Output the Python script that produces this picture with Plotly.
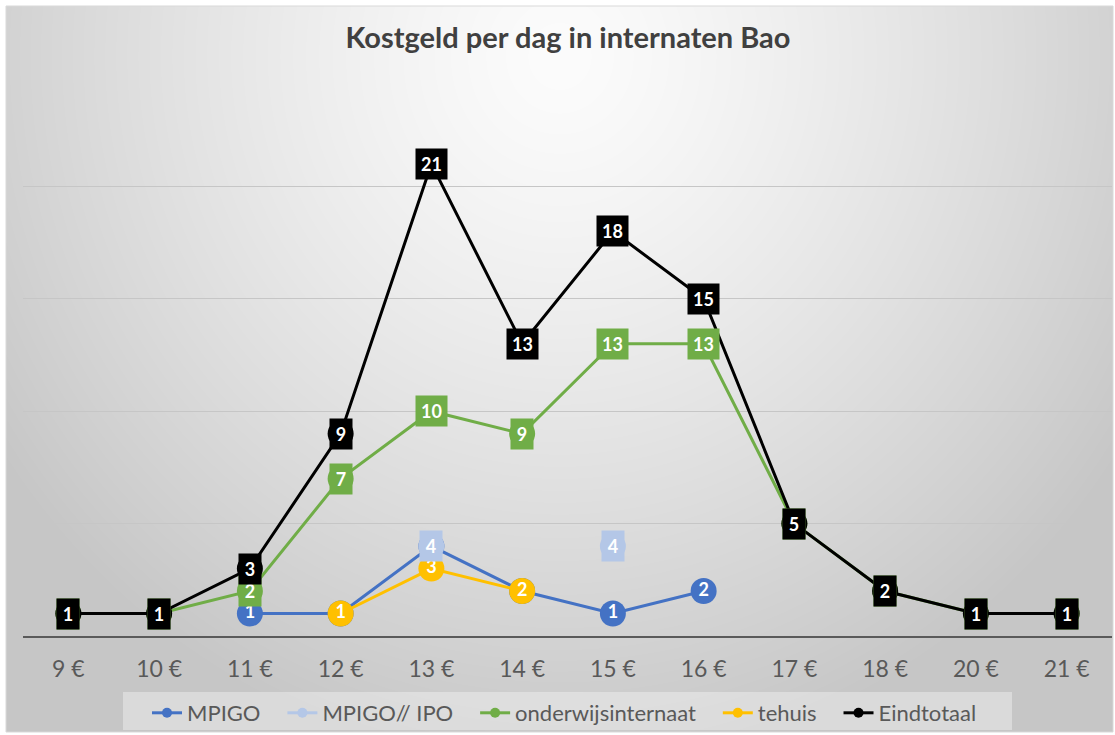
import base64, struct, zlib
import numpy as np
import plotly.graph_objects as go

# ---------------- data ----------------
categories = ["9 €", "10 €", "11 €", "12 €", "13 €", "14 €", "15 €", "16 €", "17 €", "18 €", "20 €", "21 €"]
mpigo = [None, None, 1, 1, 4, 2, 1, 2, None, None, None, None]
mpigo_ipo = [None, None, None, None, 4, None, 4, None, None, None, None, None]
onderwijsinternaat = [1, 1, 2, 7, 10, 9, 13, 13, 5, 2, 1, 1]
tehuis = [None, None, None, 1, 3, 2, None, None, None, None, None, None]
eindtotaal = [1, 1, 3, 9, 21, 13, 18, 15, 5, 2, 1, 1]

series_names = ["MPIGO", "MPIGO// IPO", "onderwijsinternaat", "tehuis", "Eindtotaal"]
series_values = [mpigo, mpigo_ipo, onderwijsinternaat, tehuis, eindtotaal]
series_colors = ["#4472C4", "#B4C7E7", "#70AD47", "#FFC000", "#000000"]
boxed = [False, True, True, False, True]

title_text = "Kostgeld per dag in internaten Bao"

FONT = "Lato"
W, H = 1115, 735
ML, MR, MT, MB = 23, 3, 74, 99
PW, PH = W - ML - MR, H - MT - MB


def px_x(p):
    return (p - ML) / PW


def px_y(p):
    return (H - MB - p) / PH


# ---------------- background gradient image ----------------
def gradient_uri(w, h):
    xs = np.arange(w)[None, :]
    ys = np.arange(h)[:, None]
    cx, cy = w * 0.5, 50.0
    d = np.sqrt(((xs - cx) / 680.0) ** 2 + ((ys - cy) / 720.0) ** 2)
    d = np.clip(d, 0, 1)
    v = 252 - 54 * d ** 1.3
    arr = np.clip(v, 0, 255).astype(np.uint8)
    raw = b"".join(b"\x00" + arr[i].tobytes() for i in range(h))

    def chunk(tag, data):
        c = struct.pack(">I", len(data)) + tag + data
        return c + struct.pack(">I", zlib.crc32(tag + data) & 0xFFFFFFFF)

    png = b"\x89PNG\r\n\x1a\n"
    png += chunk(b"IHDR", struct.pack(">IIBBBBB", w, h, 8, 0, 0, 0, 0))
    png += chunk(b"IDAT", zlib.compress(raw, 9))
    png += chunk(b"IEND", b"")
    return "data:image/png;base64," + base64.b64encode(png).decode()


bx0, by0, bx1, by1 = 6, 6, 1113, 732
lx0, ly0, lx1, ly1 = 123, 692, 1012, 730
PAD = "\u00a0" * 3

fig = go.Figure()

# ---------------- data traces ----------------
for name, vals, col, bx in zip(series_names, series_values, series_colors, boxed):
    fig.add_trace(go.Scatter(
        x=categories, y=vals, name=name, showlegend=False,
        mode="lines+markers" if bx else "lines+markers+text",
        line=dict(color=col, width=3),
        marker=dict(color=col, size=26, symbol="circle"),
        text=[("" if v is None else str(v)) for v in vals],
        textposition="middle center",
        textfont=dict(family=FONT, size=18, color="white", weight="bold"),
        cliponaxis=False, connectgaps=False, hoverinfo="x+y+name",
    ))

# legend entries
for name, col in zip(series_names, series_colors):
    fig.add_trace(go.Scatter(
        x=[None], y=[None], name=name + PAD, mode="lines+markers",
        line=dict(color=col, width=3), marker=dict(color=col, size=10),
    ))

# boxed data labels
for name, vals, col, bx in zip(series_names, series_values, series_colors, boxed):
    if not bx:
        continue
    for c, v in zip(categories, vals):
        if v is None:
            continue
        t = str(v)
        fig.add_annotation(
            x=c, y=v, xref="x", yref="y", text=f"<b>{t}</b>", showarrow=False,
            font=dict(family=FONT, size=18, color="white"),
            bgcolor=col, width=16 if len(t) == 1 else 25, height=24, borderpad=3,
            align="center", valign="middle",
        )

fig.update_layout(
    width=W, height=H,
    margin=dict(l=ML, r=MR, t=MT, b=MB, autoexpand=False),
    paper_bgcolor="white",
    plot_bgcolor="rgba(0,0,0,0)",
    font=dict(family=FONT, color="#595959"),
    title=dict(text=f"<b>{title_text}</b>", x=568 / W, xanchor="center",
               y=1 - 38 / H, yanchor="middle", yref="container",
               font=dict(family=FONT, size=29, color="#404040")),
    xaxis=dict(type="category", categoryorder="array", categoryarray=categories,
               range=[-0.5, len(categories) - 0.5],
               showgrid=False, showline=True, linecolor="#5a5a5a", linewidth=1.5,
               ticks="", tickfont=dict(family=FONT, size=23, color="#595959"),
               ticklabelstandoff=12, zeroline=False, fixedrange=True),
    yaxis=dict(range=[0, 25], dtick=5, showticklabels=False, showgrid=True,
               gridcolor="#c6c6c6", gridwidth=1, zeroline=False, showline=False,
               fixedrange=True),
    legend=dict(orientation="h", xref="container", yref="container",
                x=147 / W, xanchor="left", y=1 - 692 / H, yanchor="top",
                bgcolor="rgba(0,0,0,0)", borderwidth=0,
                font=dict(family=FONT, size=22, color="#595959"),
                itemclick=False, itemdoubleclick=False),
    showlegend=True,
    images=[dict(source=gradient_uri(bx1 - bx0, by1 - by0), xref="paper", yref="paper",
                 x=px_x(bx0), y=px_y(by0), sizex=(bx1 - bx0) / PW, sizey=(by1 - by0) / PH,
                 xanchor="left", yanchor="top", sizing="stretch", layer="below")],
    shapes=[
        dict(type="rect", xref="paper", yref="paper",
             x0=px_x(bx0), x1=px_x(bx1), y0=px_y(by1), y1=px_y(by0),
             line=dict(color="#d9d9d9", width=1), fillcolor="rgba(0,0,0,0)", layer="below"),
        dict(type="rect", xref="paper", yref="paper",
             x0=px_x(lx0), x1=px_x(lx1), y0=px_y(ly1), y1=px_y(ly0),
             line=dict(width=0), fillcolor="rgba(255,255,255,0.35)", layer="below"),
    ],
)

fig.write_html("out.html", config={"displayModeBar": False},
               post_script="document.body.style.margin='0';document.body.style.overflow='hidden';")
